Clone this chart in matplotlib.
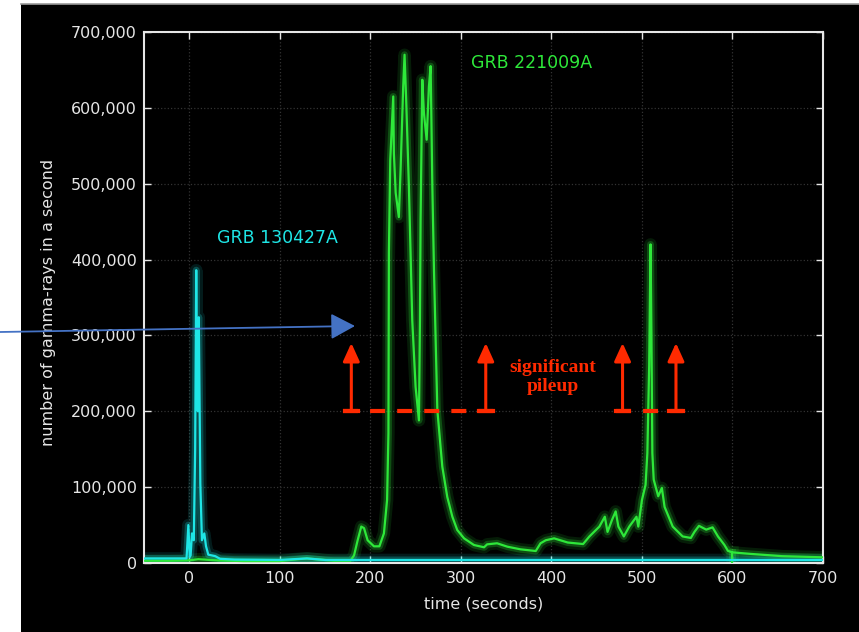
import matplotlib
matplotlib.use("Agg")
import matplotlib.pyplot as plt
from matplotlib.patches import Rectangle, FancyArrowPatch
from matplotlib.lines import Line2D
from matplotlib.ticker import FuncFormatter

# ---------------- data ----------------
green_t = [-50, -20, 0, 10, 30, 60, 100, 120, 130, 140, 160, 178, 182, 186, 190, 193, 197,
           204, 210, 215, 218.5, 220, 220.5, 222, 225.3, 226, 228, 231.5, 233.4, 236.3,
           237.8, 239.6, 242.6, 246.3, 250, 253.7, 254.8, 255.5, 257.4, 259.2, 262.2,
           264.7, 266.6, 268.5, 270.3, 274, 279.5, 285, 290.6, 296, 303.5, 314.5, 325.6,
           329, 340, 351.4, 366, 382.7, 388, 393.8, 403, 418, 435, 442, 453, 459, 462,
           467, 471, 474, 480, 486, 494, 496, 500, 504, 506, 508, 509.5, 510.5, 511.5,
           513, 518, 522, 525, 534, 545, 554, 558, 563, 571, 578, 584, 591, 595, 600,
           620, 655, 700]
green_v = [3000, 3000, 3500, 5000, 3500, 2500, 2500, 5000, 6000, 5000, 3000, 3000, 10000,
           30000, 48000, 46000, 30000, 22000, 22000, 39000, 83000, 171000, 409000, 531000,
           615000, 540000, 488000, 456000, 518000, 628000, 670000, 610000, 496000, 320000,
           232000, 188000, 320000, 452000, 637000, 593000, 558000, 628000, 655000, 496000,
           386000, 202000, 127000, 87000, 61000, 43500, 32500, 23700, 20700, 24600, 26000,
           21500, 18000, 15800, 26000, 30000, 32500, 27000, 25000, 35000, 48000, 61000,
           41000, 57000, 68000, 48000, 35000, 48000, 61000, 48000, 83000, 103000, 145000,
           260000, 420000, 300000, 145000, 110000, 88000, 99000, 74000, 48000, 35000,
           33000, 41000, 49000, 44000, 47000, 35000, 24000, 16000, 14000, 12000, 9000, 7500]
green_drop_t = [600, 600]
green_drop_v = [14000, 0]

cyan_t = [-50, -10, -3, -1, 0.5, 1.5, 3, 5, 6.5, 7.7, 8.5, 9.5, 10.5, 11.5, 12.2, 14,
          16.6, 18.5, 21, 28.7, 34, 50, 100, 130, 150, 200, 300, 400, 500, 600, 700]
cyan_v = [6000, 6000, 6000, 50000, 8000, 10000, 39000, 30000, 150000, 386000, 250000,
          200000, 324000, 200000, 105000, 30000, 39000, 22000, 11000, 9000, 5500, 4500,
          4000, 6000, 4000, 4000, 4000, 4000, 4000, 4000, 4000]

pileup_level = 200000
pileup_segments = [(170, 336), (471, 545)]
arrow_t = [179, 327.5, 478.6, 537.6]
arrow_top = 290000

x_ticks = [0, 100, 200, 300, 400, 500, 600, 700]
y_ticks = [0, 100000, 200000, 300000, 400000, 500000, 600000, 700000]

GREEN = "#2ee83a"
CYAN = "#1ee6e6"
RED = "#ff2a00"
FG = "#e6e6e6"

# ---------------- figure ----------------
W, H = 859, 632
fig = plt.figure(figsize=(W / 100, H / 100), dpi=100, facecolor="white")
fig.add_artist(Rectangle((21 / W, 0), 1 - 21 / W, (H - 4) / H, transform=fig.transFigure,
                         facecolor="black", edgecolor="none", zorder=-10))
fig.add_artist(Line2D([21 / W, 1], [(H - 3.5) / H] * 2, transform=fig.transFigure,
                      color="#9a9a9a", lw=1.2, zorder=-9))

ax = fig.add_axes([144 / W, 1 - 563 / H, (823 - 144) / W, (563 - 32) / H])
ax.set_facecolor("black")


def glow_plot(t, v, color):
    ax.plot(t, v, color=color, lw=9, alpha=0.12, solid_joinstyle="round", zorder=2)
    ax.plot(t, v, color=color, lw=5, alpha=0.25, solid_joinstyle="round", zorder=2)
    ax.plot(t, v, color=color, lw=1.6, alpha=1.0, zorder=3)


glow_plot(green_t, green_v, GREEN)
glow_plot(green_drop_t, green_drop_v, GREEN)
glow_plot(cyan_t, cyan_v, CYAN)

ax.set_xlim(-50, 700)
ax.set_ylim(0, 700000)
ax.set_xticks(x_ticks)
ax.set_yticks(y_ticks)
ax.yaxis.set_major_formatter(FuncFormatter(lambda v, p: f"{int(v):,}"))
ax.tick_params(direction="in", length=5, width=1, color=FG, labelcolor=FG,
               labelsize=11.5, top=True, right=True)
ax.tick_params(axis="y", pad=5)
ax.tick_params(axis="x", pad=6)
for s in ax.spines.values():
    s.set_color(FG)
    s.set_linewidth(1.5)
ax.grid(True, color="#333333", linestyle=":", lw=0.9)
ax.set_axisbelow(True)

ax.set_xlabel("time (seconds)", color=FG, fontsize=11.5)
ax.set_ylabel("number of gamma-rays in a second", color=FG, fontsize=11.5)
ax.xaxis.set_label_coords(0.5, -0.064)
ax.yaxis.set_label_coords(-0.130, 0.49)

ax.text(378, 658500, "GRB 221009A", color=GREEN, fontsize=12.5, ha="center", va="center")
ax.text(97, 428000, "GRB 130427A", color=CYAN, fontsize=12.5, ha="center", va="center")

# pileup annotations
for a, b in pileup_segments:
    ax.plot([a, b], [pileup_level, pileup_level], color=RED, lw=3,
            linestyle=(0, (3.6, 2.9)), solid_capstyle="butt", dash_capstyle="butt", zorder=5)
for t in arrow_t:
    ax.plot([t - 7.5, t + 7.5], [pileup_level, pileup_level], color=RED, lw=3, zorder=5)
    ax.annotate("", xy=(t, arrow_top), xytext=(t, pileup_level),
                arrowprops=dict(arrowstyle="-|>,head_length=1.1,head_width=0.5",
                                mutation_scale=10, color=RED, lw=2.2,
                                shrinkA=0, shrinkB=0), zorder=5)
ax.text(401.5, 245000, "significant\npileup", color=RED, fontsize=14,
        family="Liberation Serif", fontweight="bold", ha="center", va="center",
        linespacing=1.15, zorder=5)

# blue pointer arrow (figure pixels)
fig.add_artist(FancyArrowPatch((0, (H - 332) / H), (355 / W, (H - 326) / H),
                               transform=fig.transFigure,
                               arrowstyle="-|>,head_length=1.5,head_width=0.8",
                               mutation_scale=10, color="#4472c4", lw=1.3,
                               shrinkA=0, shrinkB=0, zorder=10))

fig.savefig("out.png", dpi=100, facecolor="white")
